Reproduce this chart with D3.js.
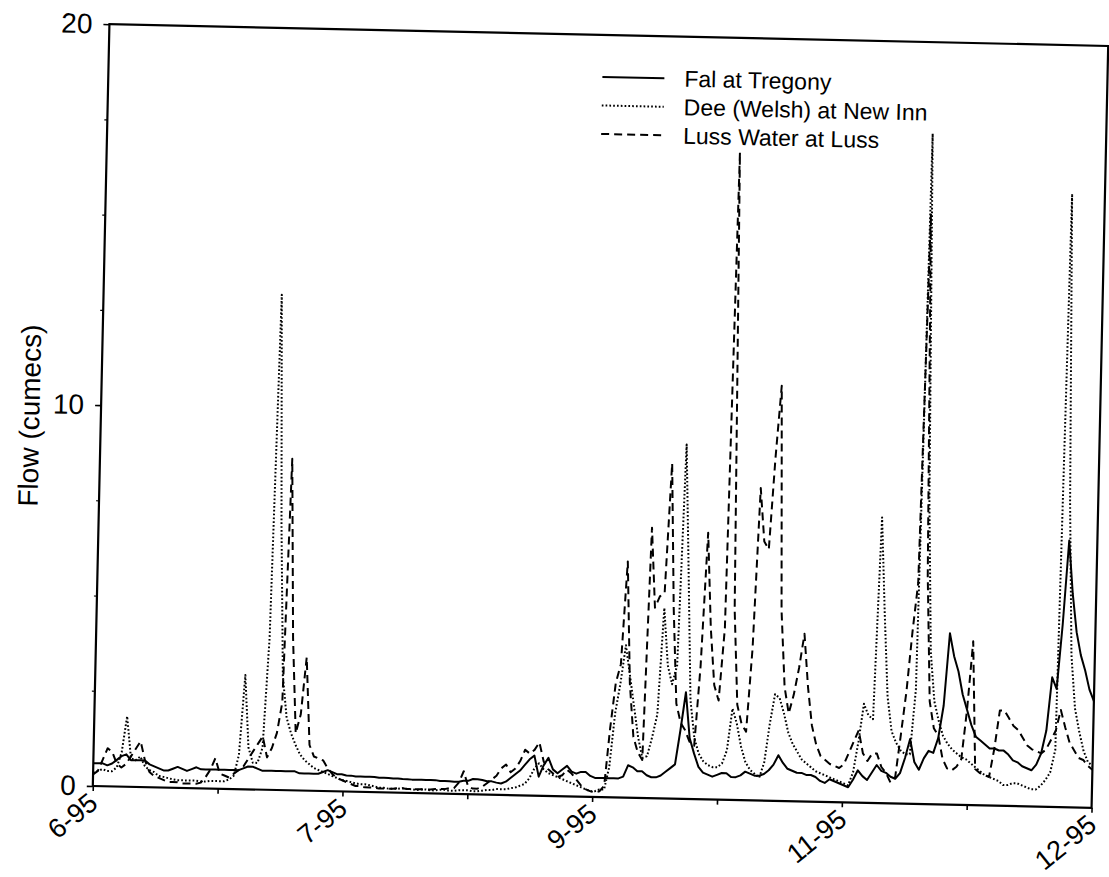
<!DOCTYPE html>
<html>
<head>
<meta charset="utf-8">
<script src="https://cdn.jsdelivr.net/npm/d3@7"></script>
<style>
  html, body { margin: 0; padding: 0; background: #fff; }
  svg { display: block; }
  text { font-family: Arial, "Liberation Sans", Helvetica, sans-serif; fill: #000; }
</style>
</head>
<body>
<svg id="chart" width="1109" height="877"></svg>
<script>
// Daily mean flows, 1 June 1995 to 31 December 1995 (cumecs)
const startDate = new Date(1995, 5, 1);
const endDate = new Date(1995, 11, 31);

const seriesNames = ["Fal at Tregony", "Dee (Welsh) at New Inn", "Luss Water at Luss"];

const falFlow = [
  0.6, 0.6, 0.6, 0.55, 0.6, 0.7, 0.8, 0.85, 0.7, 0.7,
  0.7, 0.7, 0.6, 0.55, 0.5, 0.45, 0.45, 0.5, 0.55, 0.5,
  0.45, 0.5, 0.55, 0.5, 0.5, 0.5, 0.5, 0.5, 0.5, 0.5,
  0.5, 0.5, 0.55, 0.6, 0.6, 0.55, 0.5, 0.5, 0.5, 0.5,
  0.5, 0.5, 0.5, 0.5, 0.45, 0.45, 0.45, 0.45, 0.45, 0.5,
  0.55, 0.5, 0.45, 0.45, 0.42, 0.42, 0.4, 0.4, 0.4, 0.4,
  0.4, 0.38, 0.38, 0.38, 0.37, 0.37, 0.36, 0.36, 0.35, 0.35,
  0.35, 0.35, 0.35, 0.35, 0.33, 0.33, 0.33, 0.32, 0.32, 0.35,
  0.35, 0.4, 0.4, 0.38, 0.35, 0.35, 0.32, 0.3, 0.35, 0.45,
  0.55, 0.65, 0.8, 0.95, 1.05, 0.5, 0.8, 1.0, 0.7, 0.6,
  0.7, 0.8, 0.65, 0.6, 0.65, 0.65, 0.55, 0.5, 0.5, 0.5,
  0.5, 0.5, 0.5, 0.55, 0.85, 0.8, 0.7, 0.7, 0.6, 0.55,
  0.55, 0.6, 0.7, 0.8, 0.9, 1.8, 2.8, 1.6, 1.2, 0.85,
  0.7, 0.65, 0.6, 0.65, 0.7, 0.7, 0.6, 0.6, 0.65, 0.75,
  0.7, 0.65, 0.65, 0.7, 0.8, 0.95, 1.2, 1.0, 0.85, 0.8,
  0.75, 0.75, 0.7, 0.7, 0.65, 0.55, 0.5, 0.6, 0.55, 0.5,
  0.45, 0.4, 0.6, 0.85, 0.7, 0.6, 0.8, 1.0, 0.85, 0.8,
  0.7, 0.65, 0.8, 1.2, 1.7, 1.1, 0.9, 1.2, 1.4, 1.35,
  1.75, 2.6, 4.5, 3.9, 3.5, 2.9, 2.5, 2.1, 1.8, 1.7,
  1.6, 1.5, 1.5, 1.45, 1.45, 1.35, 1.2, 1.15, 1.05, 1.0,
  0.95, 1.1, 1.4, 2.0, 3.4, 3.1, 4.8, 7.0, 5.6, 4.6,
  4.0, 3.6, 3.1, 2.8
];

const deeFlow = [
  0.35, 0.4, 0.45, 0.4, 0.4, 0.5, 0.9, 1.85, 0.75, 0.7,
  0.8, 0.55, 0.45, 0.4, 0.3, 0.28, 0.25, 0.22, 0.2, 0.2,
  0.2, 0.2, 0.2, 0.18, 0.18, 0.2, 0.2, 0.2, 0.2, 0.25,
  0.35, 0.9, 3.0, 1.1, 0.7, 0.7, 1.1, 4.0, 13.0, 7.0,
  3.0, 1.9, 1.5, 1.2, 0.95, 0.8, 0.7, 0.6, 0.55, 0.5,
  0.45, 0.4, 0.35, 0.3, 0.28, 0.25, 0.22, 0.2, 0.2, 0.18,
  0.15, 0.12, 0.12, 0.1, 0.1, 0.1, 0.12, 0.1, 0.1, 0.08,
  0.1, 0.1, 0.08, 0.08, 0.1, 0.1, 0.08, 0.08, 0.1, 0.1,
  0.1, 0.08, 0.08, 0.1, 0.12, 0.12, 0.15, 0.15, 0.15, 0.18,
  0.2, 0.25, 0.3, 0.45, 0.7, 0.85, 0.7, 0.6, 0.55, 0.5,
  0.45, 0.4, 0.35, 0.3, 0.25, 0.2, 0.15, 0.15, 0.2, 0.2,
  0.8, 2.2, 3.0, 4.0, 3.2, 2.4, 1.6, 1.05, 1.1, 1.6,
  2.2, 5.0, 3.5, 3.0, 3.5, 9.3, 6.0, 2.6, 1.6, 1.2,
  1.0, 0.9, 0.85, 0.85, 0.95, 1.3, 2.4, 2.0, 1.4, 1.0,
  0.8, 0.7, 0.6, 1.0, 2.0, 2.8, 2.7, 2.3, 1.8, 1.5,
  1.3, 1.1, 1.0, 0.9, 0.8, 0.75, 0.7, 0.65, 0.6, 0.55,
  0.5, 0.45, 0.8, 1.6, 2.6, 2.3, 2.2, 7.5, 5.0, 2.8,
  1.9, 1.6, 1.4, 1.3, 1.3, 3.0, 17.6, 8.0, 4.0, 2.7,
  2.2, 1.8, 1.6, 1.45, 1.35, 1.25, 1.2, 1.1, 1.0, 0.9,
  0.8, 0.75, 0.7, 0.65, 0.55, 0.55, 0.6, 0.6, 0.55, 0.5,
  0.45, 0.45, 0.55, 0.7, 0.9, 1.5, 16.1, 8.0, 4.0, 2.6,
  2.0, 1.5, 1.2, 1.1
];

const lussFlow = [
  0.3, 0.4, 0.7, 1.0, 0.9, 0.6, 0.5, 0.6, 0.8, 1.0,
  1.2, 0.7, 0.4, 0.3, 0.25, 0.2, 0.15, 0.15, 0.15, 0.12,
  0.12, 0.12, 0.12, 0.15, 0.3, 0.5, 0.8, 0.4, 0.35, 0.3,
  0.4, 0.5, 0.6, 0.8, 1.0, 1.2, 1.4, 0.85, 1.1, 1.5,
  2.3, 8.7, 4.0, 1.5, 2.0, 3.5, 1.2, 0.9, 0.85, 0.8,
  0.6, 0.45, 0.35, 0.3, 0.25, 0.2, 0.15, 0.15, 0.12, 0.12,
  0.12, 0.1, 0.1, 0.1, 0.1, 0.12, 0.12, 0.1, 0.1, 0.1,
  0.1, 0.1, 0.1, 0.12, 0.12, 0.12, 0.15, 0.15, 0.3, 0.6,
  0.2, 0.15, 0.15, 0.2, 0.3, 0.4, 0.5, 0.7, 0.8, 0.6,
  0.7, 0.9, 1.2, 1.1, 1.2, 1.4, 0.9, 0.7, 0.6, 0.5,
  0.55, 0.7, 0.6, 0.45, 0.3, 0.2, 0.15, 0.12, 0.15, 0.3,
  1.8, 3.0, 3.5, 6.2, 3.0, 1.6, 1.2, 1.0, 7.1, 5.0,
  5.3, 5.4, 8.8, 5.0, 2.5, 2.0, 1.8, 1.5, 1.4, 3.5,
  7.0, 4.5, 3.0, 2.6, 4.5, 17.0, 5.0, 2.5, 2.0, 1.8,
  4.0, 8.2, 6.8, 6.6, 9.0, 10.9, 5.0, 3.0, 2.3, 2.8,
  3.5, 4.4, 3.0, 2.0, 1.5, 1.2, 1.1, 1.0, 0.95, 0.9,
  1.0, 1.3, 1.6, 1.9, 1.3, 1.1, 1.3, 1.3, 0.95, 0.8,
  0.55, 0.7, 1.8, 2.95, 4.5, 5.8, 15.5, 6.0, 2.7, 2.0,
  1.8, 1.2, 0.95, 0.9, 1.0, 1.2, 2.5, 4.3, 0.95, 0.85,
  0.8, 0.75, 1.5, 2.5, 2.5, 2.3, 2.1, 2.0, 1.8, 1.6,
  1.5, 1.45, 1.4, 1.5, 1.75, 2.0, 2.55, 2.1, 1.7, 1.5,
  1.3, 1.25, 1.1, 1.0
];

const yTickValues = [0, 10, 20];
const yMinorTickValues = [2.5, 5, 7.5, 12.5, 15, 17.5];
const xTickLabels = ["6-95", "7-95", "9-95", "11-95", "12-95"];
const yTitle = "Flow (cumecs)";

// Plot frame (page pixels) and the slight tilt of the whole sheet
const frame = { left: 101, right: 1100, top: 35, bottom: 797 };
const tilt = 1.25;

const svg = d3.select("#chart");
svg.append("rect").attr("width", 1109).attr("height", 877).attr("fill", "#fff");
const g = svg.append("g").attr("transform", `rotate(${tilt},601,416)`);

const x = d3.scaleTime().domain([startDate, endDate]).range([frame.left, frame.right]);
const y = d3.scaleLinear().domain([0, 20]).range([frame.bottom, frame.top]);

const dayOf = i => d3.timeDay.offset(startDate, i);

// Eight equal intervals along the time axis; every second tick is labelled
const tickDates = d3.range(9).map(i => new Date(+startDate + i * (endDate - startDate) / 8));

// Y axis
const yAxis = g.append("g")
  .attr("transform", `translate(${frame.left},0)`)
  .call(d3.axisLeft(y).tickValues(yTickValues).tickSize(6).tickPadding(11).tickFormat(d3.format("d")));
yAxis.select(".domain").remove();
yAxis.selectAll("text").style("font-size", "28px");
yAxis.selectAll("line").attr("stroke", "#000").attr("stroke-width", 1.6);

const yMinor = g.append("g")
  .attr("transform", `translate(${frame.left},0)`)
  .call(d3.axisLeft(y).tickValues(yMinorTickValues).tickSize(3).tickFormat(""));
yMinor.select(".domain").remove();
yMinor.selectAll("line").attr("stroke", "#000").attr("stroke-width", 1.2);

// X axis ticks
const xAxis = g.append("g")
  .attr("transform", `translate(0,${frame.bottom})`)
  .call(d3.axisBottom(x).tickValues(tickDates).tickSize(5).tickFormat(""));
xAxis.select(".domain").remove();
xAxis.selectAll("line").attr("stroke", "#000").attr("stroke-width", 1.6);

// X tick labels, slanted
g.append("g").selectAll("text")
  .data(xTickLabels)
  .join("text")
  .attr("text-anchor", "end")
  .attr("transform", (d, i) => `translate(${x(tickDates[i * 2]) + 7},${frame.bottom + 20}) rotate(-40)`)
  .style("font-size", "27px")
  .text(d => d);

// Plot frame
g.append("rect")
  .attr("x", frame.left).attr("y", frame.top)
  .attr("width", frame.right - frame.left).attr("height", frame.bottom - frame.top)
  .attr("fill", "none").attr("stroke", "#000").attr("stroke-width", 2.2);

// Y axis title
g.append("text")
  .attr("transform", `translate(30,${(frame.top + frame.bottom) / 2 + 12}) rotate(-90)`)
  .attr("text-anchor", "middle")
  .attr("dominant-baseline", "central")
  .style("font-size", "28px")
  .text(yTitle);

// Series
const styles = [
  { data: falFlow, dash: null, width: 2 },
  { data: deeFlow, dash: "1.7,2.1", width: 2 },
  { data: lussFlow, dash: "8,5", width: 2 }
];

const line = d3.line()
  .x((d, i) => x(dayOf(i)))
  .y(d => y(d));

g.append("g").selectAll("path")
  .data(styles)
  .join("path")
  .attr("d", s => line(s.data))
  .attr("fill", "none")
  .attr("stroke", "#000")
  .attr("stroke-width", s => s.width)
  .attr("stroke-dasharray", s => s.dash)
  .attr("stroke-linejoin", "round");

// Legend
const legend = g.append("g").attr("transform", "translate(595,77)");
const legendRows = legend.selectAll("g")
  .data(seriesNames)
  .join("g")
  .attr("transform", (d, i) => `translate(0,${i * 28.5})`);
legendRows.append("line")
  .attr("x1", 0).attr("x2", 62).attr("y1", 0).attr("y2", 0)
  .attr("stroke", "#000")
  .attr("stroke-width", (d, i) => styles[i].width)
  .attr("stroke-dasharray", (d, i) => styles[i].dash);
legendRows.append("text")
  .attr("x", 82).attr("y", 0)
  .attr("dominant-baseline", "central")
  .style("font-size", "23px")
  .text(d => d);
</script>
</body>
</html>
